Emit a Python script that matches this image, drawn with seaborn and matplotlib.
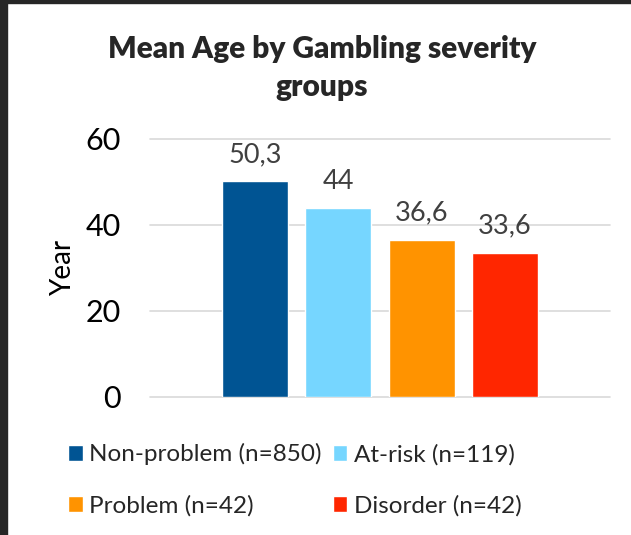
import matplotlib
matplotlib.use("Agg")
import matplotlib.pyplot as plt
import seaborn as sns
import pandas as pd
from matplotlib.patches import Rectangle

# Data
groups = ["Non-problem (n=850)", "At-risk (n=119)", "Problem (n=42)", "Disorder (n=42)"]
mean_age = [50.3, 44, 36.6, 33.6]
colors = ["#005493", "#76D6FF", "#FF9300", "#FF2600"]
y_ticks = [0, 20, 40, 60]

df = pd.DataFrame({"group": groups, "age": mean_age})

sns.set_style("white")
plt.rcParams["font.family"] = ["Lato", "DejaVu Sans"]

W, H = 631, 535
fig = plt.figure(figsize=(W / 100, H / 100), dpi=100)
ax = fig.add_axes([150 / W, (H - 397) / H, 460 / W, 258 / H])

sns.barplot(data=df, x="group", y="age", hue="group", palette=colors,
            width=0.79, saturation=1, legend=True, ax=ax)

ax.set_xlim(-1.26, 4.26)
ax.set_ylim(0, 60)
ax.set_yticks(y_ticks)
ax.set_xticks([])
ax.set_xlabel("")
ax.set_ylabel("Year", fontsize=20, color="black")
ax.yaxis.set_label_coords(-0.16, 0.5)
ax.tick_params(axis="y", length=0, pad=21, labelsize=22, labelcolor="black")
ax.grid(axis="y", color="#D9D9D9", linewidth=1.2)
ax.set_axisbelow(True)
for gl in ax.get_ygridlines():
    gl.set_clip_on(False)
sns.despine(ax=ax, left=True, bottom=True)

# data labels with comma decimals
for cont, v in zip(ax.containers, mean_age):
    txt = f"{v:g}".replace(".", ",")
    ax.bar_label(cont, labels=[txt], padding=10, fontsize=19.5, color="#404040")

# legend under the chart, filled row by row
handles, labels = ax.get_legend_handles_labels()
ax.get_legend().remove()
order = [0, 2, 1, 3]
fig.legend([handles[i] for i in order], [labels[i] for i in order], ncol=2,
           frameon=False, fontsize=17.5,
           loc="center left", bbox_to_anchor=(68 / W, (H - 480) / H),
           borderpad=0, borderaxespad=0, handlelength=0.6, handleheight=0.62,
           handletextpad=0.28, columnspacing=0.45, labelspacing=1.22)

# title
fig.text(322 / W, (H - 35) / H, "Mean Age by Gambling severity\ngroups",
         ha="center", va="top", fontsize=21.5, fontweight="heavy", linespacing=1.45)

# dark screenshot border
fig.patches.append(Rectangle((0, 0), 7 / W, 1, transform=fig.transFigure,
                             color="#262626", zorder=10))
fig.patches.append(Rectangle((0, 1 - 3 / H), 1, 3 / H, transform=fig.transFigure,
                             color="#262626", zorder=10))

fig.savefig("out.png", dpi=100)
